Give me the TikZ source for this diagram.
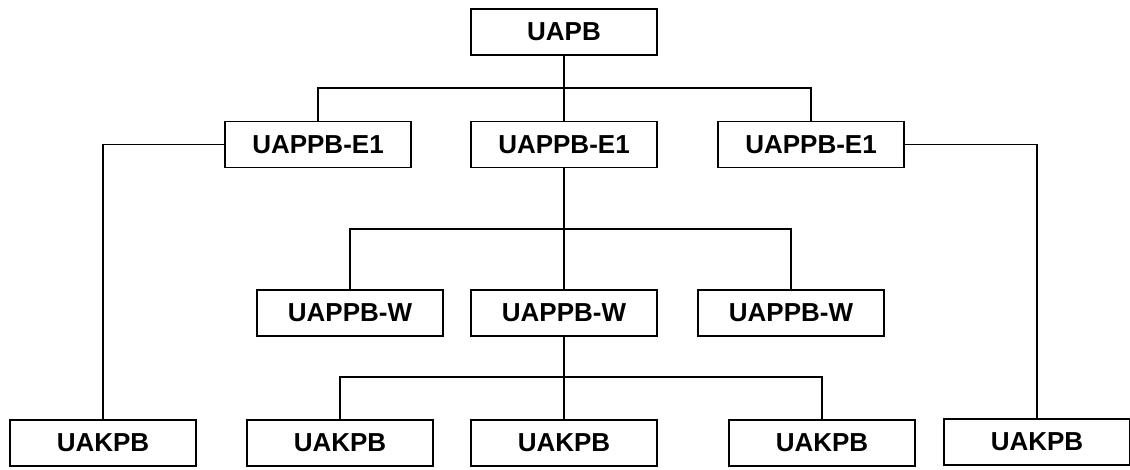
\documentclass[tikz,border=0pt]{standalone}
\usepackage{fontspec}
\setmainfont{Liberation Sans}
\begin{document}
\begin{tikzpicture}[x=1pt,y=-1pt,
  box/.style={draw,line width=1.4pt,minimum width=186pt,minimum height=46pt,inner sep=0pt,
    font=\fontsize{26pt}{28pt}\selectfont\bfseries},
  conn/.style={line width=1.5pt}]
\useasboundingbox (0,0) rectangle (1130,469);
\node[box] (top) at (564,32) {UAPB};
\node[box] (e1L) at (318,144.5) {UAPPB-E1};
\node[box] (e1M) at (564,144.5) {UAPPB-E1};
\node[box] (e1R) at (811,144.5) {UAPPB-E1};
\node[box] (wL) at (350,313) {UAPPB-W};
\node[box] (wM) at (564,313) {UAPPB-W};
\node[box] (wR) at (791,313) {UAPPB-W};
\node[box] (kA) at (103,443) {UAKPB};
\node[box] (kB) at (340,443) {UAKPB};
\node[box] (kC) at (564,443) {UAKPB};
\node[box] (kD) at (822,443) {UAKPB};
\node[box] (kE) at (1037,442) {UAKPB};
\coordinate (bus1) at (564,88);
\coordinate (bus2) at (564,229);
\coordinate (bus3) at (564,377);
\draw[conn] (top) -- (e1M);
\draw[conn] (e1L.north) |- (bus1) -| (e1R.north);
\draw[conn] (e1L.west) -| (kA.north);
\draw[conn] (e1R.east) -| (kE.north);
\draw[conn] (e1M) -- (wM);
\draw[conn] (wL.north) |- (bus2) -| (wR.north);
\draw[conn] (wM) -- (kC);
\draw[conn] (kB.north) |- (bus3) -| (kD.north);
\end{tikzpicture}
\end{document}
